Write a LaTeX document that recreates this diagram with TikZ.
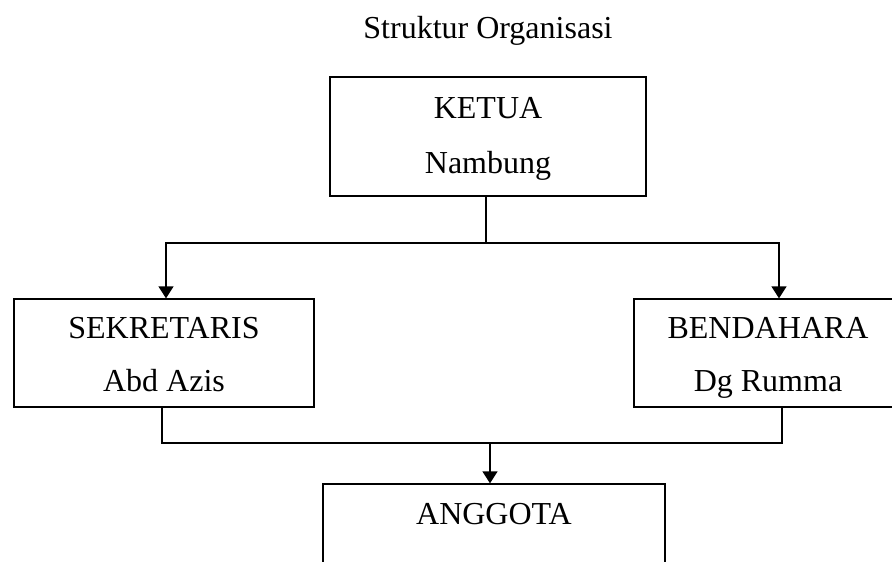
\documentclass[tikz,border=0pt]{standalone}
\usepackage{fontspec}
\setmainfont{Liberation Serif}
\usetikzlibrary{arrows.meta}
\begin{document}
\begin{tikzpicture}[x=1pt,y=-1pt,
  box/.style={draw,line width=1.3pt,inner sep=0pt},
  lbl/.style={anchor=base,inner sep=0pt,font=\fontsize{32}{38}\selectfont},
  conn/.style={line width=1.3pt},
  arr/.style={line width=1.3pt,-{Triangle[width=15pt,length=12pt]}}]
\path[use as bounding box,clip] (0,0) rectangle (892,562);
\fill[white] (0,0) rectangle (892,562);
\node[lbl] (title) at (488,38) {Struktur Organisasi};
% boxes
\node[box,minimum width=316pt,minimum height=119pt] (ketua) at (488,136.5) {};
\node[box,minimum width=300pt,minimum height=108pt] (sek) at (164,353) {};
\node[box,minimum width=268pt,minimum height=108pt] (bend) at (768,353) {};
\node[box,minimum width=342pt,minimum height=116pt] (ang) at (494,542) {};
% texts
\node[lbl] (t1) at (488,118) {KETUA};
\node[lbl] (t2) at (488,173) {Nambung};
\node[lbl] (t3) at (164,338) {SEKRETARIS};
\node[lbl] (t4) at (164,391) {Abd Azis};
\node[lbl] (t5) at (768,338) {BENDAHARA};
\node[lbl] (t6) at (768,391) {Dg Rumma};
\node[lbl] (t7) at (494,524) {ANGGOTA};
% connectors
\coordinate (j1) at (486,243);
\coordinate (j2) at (490,443);
\draw[conn] (j1 |- ketua.south) -- (j1);
\draw[arr] (j1) -| ([xshift=2pt]sek.north);
\draw[arr] (j1) -| ([xshift=11pt]bend.north);
\draw[conn] ([xshift=-2pt]sek.south) |- (j2) -| ([xshift=14pt]bend.south);
\draw[arr] (j2) -- (j2 |- ang.north);
\end{tikzpicture}
\end{document}
